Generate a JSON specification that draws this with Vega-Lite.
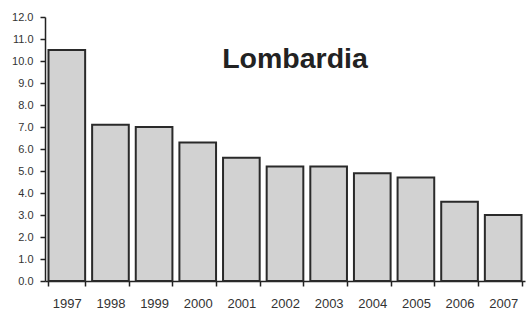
{
  "$schema": "https://vega.github.io/schema/vega-lite/v6.json",
  "width": 480,
  "height": 264,
  "autosize": "none",
  "padding": {"left": 45, "top": 17, "right": 3, "bottom": 30},
  "background": "white",
  "title": {
    "text": "Lombardia",
    "font": "Liberation Sans",
    "fontSize": 28.5,
    "fontWeight": "bold",
    "color": "#222222",
    "anchor": "middle",
    "frame": "group",
    "baseline": "alphabetic",
    "offset": 0,
    "dy": 85,
    "dx": 10
  },
  "data": {
    "values": [
      {"anno": "1997", "valore": 10.5},
      {"anno": "1998", "valore": 7.1},
      {"anno": "1999", "valore": 7.0},
      {"anno": "2000", "valore": 6.3},
      {"anno": "2001", "valore": 5.6},
      {"anno": "2002", "valore": 5.2},
      {"anno": "2003", "valore": 5.2},
      {"anno": "2004", "valore": 4.9},
      {"anno": "2005", "valore": 4.7},
      {"anno": "2006", "valore": 3.6},
      {"anno": "2007", "valore": 3.0}
    ]
  },
  "mark": {"type": "bar", "fill": "#d2d2d2", "stroke": "#2a2a2a", "strokeWidth": 2},
  "encoding": {
    "x": {
      "field": "anno",
      "type": "ordinal",
      "scale": {"paddingInner": 0.16, "paddingOuter": 0.08},
      "axis": {
        "title": null,
        "labelAngle": 0,
        "labelFont": "Liberation Sans",
        "labelFontSize": 13,
        "labelColor": "#333333",
        "labelPadding": 11,
        "tickBand": "extent",
        "tickSize": 5,
        "tickColor": "#222222",
        "tickWidth": 1.5,
        "domainColor": "#222222",
        "domainWidth": 1.5
      }
    },
    "y": {
      "field": "valore",
      "type": "quantitative",
      "scale": {"domain": [0, 12], "nice": false},
      "axis": {
        "title": null,
        "values": [0, 1, 2, 3, 4, 5, 6, 7, 8, 9, 10, 11, 12],
        "format": ".1f",
        "grid": false,
        "labelFont": "Liberation Sans",
        "labelFontSize": 11,
        "labelColor": "#333333",
        "labelPadding": 7,
        "tickSize": 5,
        "tickColor": "#222222",
        "tickWidth": 1.5,
        "domainColor": "#222222",
        "domainWidth": 1.5
      }
    }
  },
  "config": {"view": {"stroke": null}}
}
